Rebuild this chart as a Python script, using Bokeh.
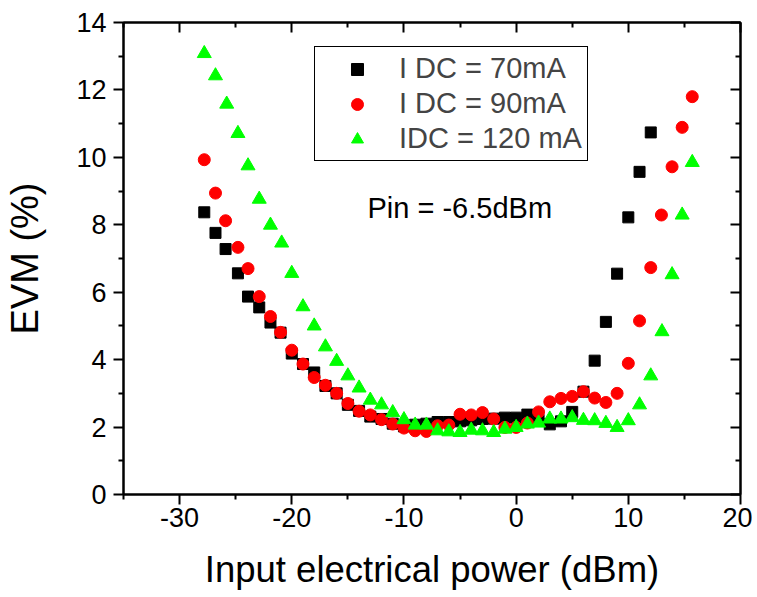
from bokeh.plotting import figure
from bokeh.models import (Range1d, LinearAxis, FixedTicker, Legend, LegendItem, Label,
                          PrintfTickFormatter)
from bokeh.embed import file_html
from bokeh.resources import INLINE

# ---- data ----
x_70 = [-27.8, -26.8, -25.9, -24.8, -23.9, -22.9, -21.9, -21.0,
        -20, -19, -18, -17, -16, -15, -14, -13, -12, -11, -10, -9, -8, -7, -6, -5,
        -4, -3, -2, -1, 0, 1, 2, 3, 4, 5, 6, 7, 8, 9, 10, 11, 12]
evm_70 = [8.37, 7.76, 7.28, 6.56, 5.87, 5.55, 5.10, 4.80,
          4.18, 3.87, 3.62, 3.22, 3.00, 2.66, 2.48, 2.31, 2.24, 2.10, 2.02, 2.07, 2.10, 2.15, 2.15, 2.17,
          2.20, 2.24, 2.25, 2.28, 2.28, 2.37, 2.21, 2.08, 2.17, 2.45, 3.05, 3.97, 5.12, 6.55, 8.22, 9.57, 10.74]

x_90 = [-27.8, -26.8, -25.9, -24.8, -23.9, -22.9, -21.9, -21.0,
        -20, -19, -18, -17, -16, -15, -14, -13, -12, -11, -10, -9, -8, -7, -6, -5,
        -4, -3, -2, -1, 0, 1, 2, 3, 4, 5, 6, 7, 8, 9, 10, 11, 12, 12.95, 13.9, 14.8, 15.7]
evm_90 = [9.93, 8.94, 8.12, 7.33, 6.70, 5.87, 5.28, 4.81,
          4.28, 3.87, 3.47, 3.24, 3.00, 2.70, 2.47, 2.36, 2.22, 2.09, 1.97, 1.89, 1.87, 2.04, 2.06, 2.38,
          2.36, 2.43, 2.24, 1.99, 1.99, 2.12, 2.45, 2.75, 2.85, 2.91, 3.05, 2.86, 2.73, 3.00, 3.89, 5.15,
          6.73, 8.29, 9.72, 10.89, 11.80]

x_120 = [-27.8, -26.8, -25.8, -24.8, -23.9, -22.9, -21.9, -20.9,
         -20, -19, -18, -17, -16, -15, -14, -13, -12, -11, -10, -9, -8, -7, -6, -5,
         -4, -3, -2, -1, 0, 1, 2, 3, 4, 5, 6, 7, 8, 9, 10, 11, 12, 13, 13.9, 14.8, 15.7]
evm_120 = [13.08, 12.42, 11.58, 10.71, 9.75, 8.76, 7.99, 7.46,
           6.56, 5.57, 5.00, 4.38, 3.95, 3.52, 3.16, 2.80, 2.66, 2.43, 2.22, 2.06, 2.06, 1.89, 1.86, 1.84,
           1.91, 1.89, 1.84, 1.94, 1.99, 2.09, 2.12, 2.24, 2.24, 2.28, 2.20, 2.19, 2.11, 1.99, 2.19, 2.66,
           3.52, 4.83, 6.52, 8.29, 9.85]

labels = ["I DC = 70mA", "I DC = 90mA", "IDC = 120 mA"]
x_major = [-30, -20, -10, 0, 10, 20]
x_minor = [-35, -25, -15, -5, 5, 15]
y_major = [0, 2, 4, 6, 8, 10, 12, 14]
y_minor = [1, 3, 5, 7, 9, 11, 13]

FONT = "Liberation Sans"

p = figure(width=752, height=597, output_backend="svg", toolbar_location=None,
           x_range=Range1d(-35, 20), y_range=Range1d(0, 14),
           min_border_left=123, min_border_right=12, min_border_top=22, min_border_bottom=103,
           x_axis_label="Input electrical power (dBm)", y_axis_label="EVM (%)")
p.background_fill_color = "white"
p.border_fill_color = "white"
p.xgrid.visible = False
p.ygrid.visible = False
p.outline_line_color = "black"
p.outline_line_width = 2

r70 = p.scatter(x_70, evm_70, marker="square", size=11, fill_color="black", line_color="black")
r90 = p.scatter(x_90, evm_90, marker="circle", size=12, fill_color="#ff0000", line_color="#ff0000")
r120 = p.scatter(x_120, evm_120, marker="triangle", size=14, fill_color="#00ff00", line_color="#00ff00")

xt = FixedTicker(ticks=x_major, minor_ticks=x_minor)
yt = FixedTicker(ticks=y_major, minor_ticks=y_minor)

def style(ax, inside=False):
    ax.axis_line_width = 2
    ax.axis_line_color = "black"
    ax.major_tick_line_width = 2
    ax.minor_tick_line_width = 2
    if inside:
        ax.major_tick_in, ax.major_tick_out = 10, 0
        ax.minor_tick_in, ax.minor_tick_out = 5, 0
        ax.major_label_text_font_size = "0px"
        ax.major_label_text_color = None
        ax.major_label_standoff = 0
    else:
        ax.major_tick_in, ax.major_tick_out = 0, 10
        ax.minor_tick_in, ax.minor_tick_out = 0, 5
        ax.formatter = PrintfTickFormatter(format="%d")
        ax.major_label_text_font = FONT
        ax.major_label_text_font_size = "27px"
        ax.major_label_text_color = "black"
        ax.axis_label_text_font = FONT
        ax.axis_label_text_font_style = "normal"
        ax.axis_label_text_color = "black"

xa = p.xaxis[0]
xa.ticker = xt
style(xa)
xa.major_label_standoff = 3
xa.axis_label_text_font_size = "36.5px"
xa.axis_label_standoff = 19

ya = p.yaxis[0]
ya.ticker = yt
style(ya)
ya.major_label_standoff = 7
ya.axis_label_text_font_size = "38px"
ya.axis_label_standoff = 27

top = LinearAxis(ticker=xt)
style(top, inside=True)
p.add_layout(top, "above")
right = LinearAxis(ticker=yt)
style(right, inside=True)
p.add_layout(right, "right")

legend = Legend(items=[LegendItem(label=labels[0], renderers=[r70]),
                       LegendItem(label=labels[1], renderers=[r90]),
                       LegendItem(label=labels[2], renderers=[r120])],
                location=(191, 333), margin=0, padding=5, spacing=2,
                glyph_width=74, glyph_height=30, label_height=30, label_standoff=5,
                label_text_font=FONT, label_text_font_size="29px",
                border_line_color="black", border_line_width=1, border_line_alpha=1,
                background_fill_color="white", background_fill_alpha=1)
p.add_layout(legend, "center")

p.add_layout(Label(x=-13.25, y=8.5, text="Pin = -6.5dBm", text_font=FONT,
                   text_font_size="29px", text_baseline="middle", text_color="black"))

open("out.html", "w").write(file_html(p, INLINE))
